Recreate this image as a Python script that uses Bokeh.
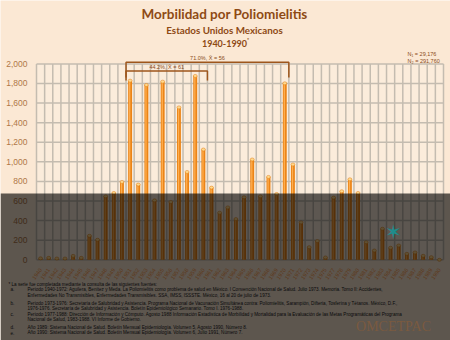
from bokeh.plotting import figure
from bokeh.models import (Range1d, FixedTicker, NumeralTickFormatter,
                          Label, BoxAnnotation, ColumnDataSource)
from bokeh.transform import dodge
from bokeh.embed import file_html
from bokeh.resources import INLINE

# ---------------- data ----------------
years = ["1940", "1941", "1942", "1943", "1944", "1945", "1946", "1947", "1948", "1949",
         "1950", "1951", "1952", "1953", "1954", "1955", "1956", "1957", "1958", "1959",
         "1960", "1961", "1962", "1963", "1964", "1965", "1966", "1967", "1968", "1969",
         "1970", "1971", "1972", "1973", "1974", "1975", "1977", "1978", "1979",
         "1980", "1981", "1982", "1983", "1984", "1985", "1986", "1987", "1988", "1989",
         "1990"]
cases = [15, 20, 13, 13, 40, 20, 245, 205, 648, 682,
         795, 1829, 768, 1785, 607, 1819, 590, 1556, 897, 1877,
         1126, 737, 481, 535, 416, 638, 1024, 648, 846, 672,
         1802, 973, 382, 129, 191, 24, 635, 700, 822,
         682, 180, 95, 317, 123, 146, 61, 75, 41, 27,
         0]
yticks = [0, 200, 400, 600, 800, 1000, 1200, 1400, 1600, 1800, 2000]

title = "Morbilidad por Poliomielitis"
subtitle = "Estados Unidos Mexicanos"
period = "1940-1990"
bracket_a = ("1951", "1960", "44.2%, X\u0304 = 61")
bracket_b = ("1951", "1970", "71.0%, X\u0304 = 56")
n_labels = ["N\u2081 = 29,176", "N\u2082 = 291,760"]
notes = [
    ("", "* La serie fue completada mediante la consulta de las siguientes fuentes:"),
    ("a.", "Periodo 1940-1972: Aguilera, Benítez y Meda. La Poliomielitis como problema de salud en México. I Convención Nacional de Salud. Julio 1973. Memoria. Tomo II: Accidentes,"),
    ("", "Enfermedades No Transmisibles, Enfermedades Transmisibles. SSA, IMSS, ISSSTE. México, 16 al 20 de julio de 1973."),
    ("b.", "Periodo 1973-1976: Secretaría de Salubridad y Asistencia. Programa Nacional de Vacunación Simultánea contra: Poliomielitis, Sarampión, Difteria, Tosferina y Tétanos. México, D.F.,"),
    ("", "1976-1976. Secretaría de Salubridad y Asistencia. Boletín Epidemiológico Semanario. Tomo I. 1976-1988."),
    ("c.", "Periodo 1977-1988: Dirección de Información y Cómputo. Agosto 1988 Información Estadística de Morbilidad y Mortalidad para la Evaluación de las Metas Programáticas del Programa"),
    ("", "Nacional de Salud, 1983-1988. VI Informe de Gobierno."),
    ("d.", "Año 1989: Sistema Nacional de Salud. Boletín Mensual Epidemiología. Volumen 5, Agosto 1990, Número 8."),
    ("e.", "Año 1990: Sistema Nacional de Salud. Boletín Mensual Epidemiología. Volumen 6, Julio 1991, Número 7."),
]
logo_text = "OMCETPAC"

# ---------------- layout (canvas pixels -> data) ----------------
W, H = 450, 340
FL, FR = 36, 443          # plot area left/right (px)
ZT, ZB = 63.4, 259.3      # pixel rows of 2000 and 0
NS = len(years)
SW = (FR - FL) / NS
YTOP = yticks[-1]

def X(cx):
    return (cx - FL) / SW - 0.5

def Y(cy):
    return (ZB - cy) / (ZB - ZT) * YTOP

xs = list(range(NS))
p = figure(width=W, height=H, x_range=Range1d(X(0), X(W)), y_range=Range1d(Y(H), Y(0)),
           output_backend="svg", toolbar_location=None, min_border=0)
p.border_fill_color = "#FBE8D4"
p.background_fill_color = "#FBE8D4"
p.outline_line_color = None
p.xgrid.visible = False
p.ygrid.visible = False

# plot area background and grid
p.add_layout(BoxAnnotation(left=-0.5, right=NS - 0.5, bottom=0, top=YTOP,
                           fill_color="#FDF2E6", line_color=None, level="underlay"))
GC = "#C4BCB0"
p.segment(x0=[-0.5] * len(yticks), x1=[NS - 0.5] * len(yticks), y0=yticks, y1=yticks,
          line_color=GC, line_width=1.5)
p.segment(x0=[i - 0.5 for i in range(NS + 1)], x1=[i - 0.5 for i in range(NS + 1)],
          y0=[0] * (NS + 1), y1=[YTOP] * (NS + 1), line_color=GC, line_width=1.5)

src = ColumnDataSource(dict(x=xs, year=years, cases=cases))
p.vbar(x="x", top="cases", width=0.48, source=src, fill_color="#EC8416", line_color=None)
p.vbar(x=dodge("x", -0.05), top="cases", width=0.16, source=src,
       fill_color="#FFB257", fill_alpha=0.9, line_color=None)
p.ellipse(x="x", y="cases", width=0.48, height=3, height_units="screen", source=src,
          fill_color="#FFDA8E", line_color="#E07A10", line_width=0.5)

# axes drawn inside the canvas at fixed locations
p.yaxis.fixed_location = -0.5
p.yaxis.ticker = FixedTicker(ticks=yticks)
p.yaxis.formatter = NumeralTickFormatter(format="0,0")
p.yaxis.axis_line_color = None
p.yaxis.major_tick_line_color = None
p.yaxis.minor_tick_line_color = None
p.yaxis.major_label_standoff = 3
p.yaxis.major_label_text_font = "Liberation Sans"
p.yaxis.major_label_text_font_size = "8.5px"
p.yaxis.major_label_text_color = "#B07848"

p.xaxis.fixed_location = 0
p.xaxis.ticker = FixedTicker(ticks=xs)
p.xaxis.major_label_overrides = {i: y for i, y in zip(xs, years)}
p.xaxis.axis_line_color = None
p.xaxis.major_tick_line_color = None
p.xaxis.minor_tick_line_color = None
p.xaxis.major_label_standoff = 3
p.xaxis.major_label_orientation = 0.95
p.xaxis.major_label_text_font = "Liberation Sans"
p.xaxis.major_label_text_font_size = "5.5px"
p.xaxis.major_label_text_color = "#FFA050"

# brackets
BR = "#9E561C"
ia0 = years.index(bracket_a[0]) - 0.5; ia1 = years.index(bracket_a[1]) + 0.5
ib0 = years.index(bracket_b[0]) - 0.5; ib1 = years.index(bracket_b[1]) + 0.5
p.line([ib0, ib0, ib1, ib1], [Y(77), Y(61.8), Y(61.8), Y(77)], line_color=BR, line_width=1.5)
p.line([ia0, ia0, ia1, ia1], [Y(80), Y(70.6), Y(70.6), Y(80)], line_color=BR, line_width=1.5)

def lab(x, cy, text, size, color, align="center", bold=False, font="Lato"):
    p.add_layout(Label(x=x, y=Y(cy), text=text, text_align=align, text_baseline="middle",
                       text_font=font, text_font_size=size, text_color=color,
                       text_font_style="bold" if bold else "normal"))

lab((ib0 + ib1) / 2, 57.5, bracket_b[2], "5.5px", "#8A4A18", font="Liberation Sans")
lab((ia0 + ia1) / 2, 66.3, bracket_a[2], "5.5px", "#8A4A18", font="Liberation Sans")

TC = "#8E4A14"
lab(X(224), 13.5, title, "13.5px", TC, bold=True)
lab(X(224), 29.5, subtitle, "9.8px", TC, bold=True)
lab(X(224), 42.5, period, "9px", TC, bold=True)
lab(X(246.5), 39.5, "*", "5px", TC, bold=True, align="left")
lab(X(407), 53, n_labels[0], "5.5px", "#8A4A18", align="left", font="Liberation Sans")
lab(X(407), 60, n_labels[1], "5.5px", "#8A4A18", align="left", font="Liberation Sans")

ny = [284, 289.3, 295, 302.7, 308.3, 314, 319.3, 326.7, 332]
for (mark, txt), cy in zip(notes, ny):
    if mark:
        lab(X(10), cy, mark, "4.6px", "#222222", align="left", font="Liberation Sans")
    lab(X(8) if txt.startswith("*") else X(27), cy, txt, "4.6px", "#222222", align="left",
        font="Liberation Sans")

# dark overlay over the lower part of the page
p.add_layout(BoxAnnotation(left=X(0), right=X(W), top=Y(193), bottom=Y(H),
                           fill_color="#000000", fill_alpha=0.63, line_color=None))

lab(X(393), 326, logo_text, "14px", "#7A5A40", font="Liberation Serif")
lab(X(393), 231, "\u2736", "20px", "#1F8C8C", font="DejaVu Sans")

open("out.html", "w").write(file_html(p, INLINE))
